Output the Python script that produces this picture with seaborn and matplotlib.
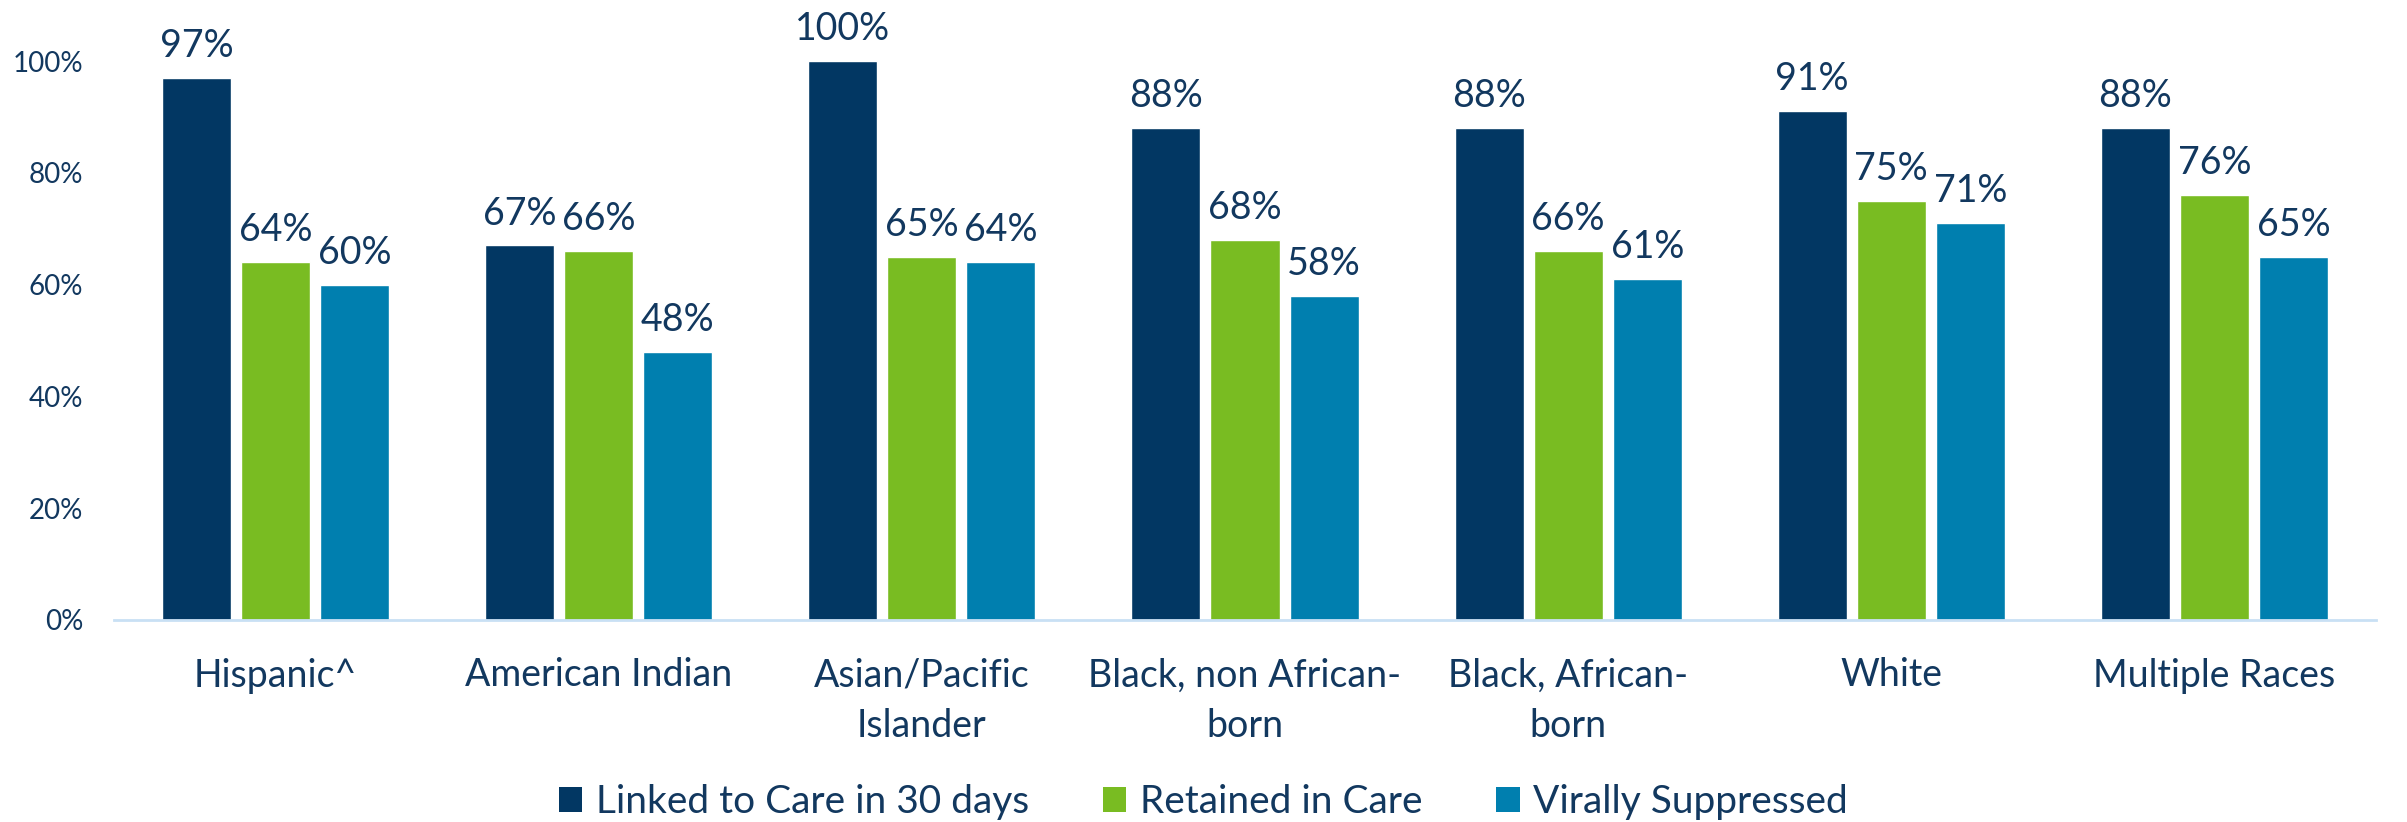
import matplotlib
matplotlib.use("Agg")
import matplotlib.pyplot as plt
import seaborn as sns
import pandas as pd
from matplotlib.patches import Patch

categories = ["Hispanic^", "American Indian", "Asian/Pacific\nIslander",
              "Black, non African-\nborn", "Black, African-\nborn", "White", "Multiple Races"]
series_names = ["Linked to Care in 30 days", "Retained in Care", "Virally Suppressed"]
linked = [97, 67, 100, 88, 88, 91, 88]
retained = [64, 66, 65, 68, 66, 75, 76]
suppressed = [60, 48, 64, 58, 61, 71, 65]
yticks = [0, 20, 40, 60, 80, 100]

colors = ["#023763", "#79BC22", "#007FAF"]
text_color = "#12385F"

rows = []
for s, vals in zip(series_names, [linked, retained, suppressed]):
    for c, v in zip(categories, vals):
        rows.append({"Category": c, "Series": s, "Value": v})
df = pd.DataFrame(rows)

sns.set_style("white")
plt.rcParams["font.family"] = ["Lato", "DejaVu Sans"]

fig = plt.figure(figsize=(24.07, 8.22), dpi=100)
ax = fig.add_axes([114 / 2407, 1 - 620 / 822, (2376 - 114) / 2407, (620 - 61) / 822])

sns.barplot(data=df, x="Category", y="Value", hue="Series", order=categories,
            hue_order=series_names, palette=colors, saturation=1,
            width=0.734, gap=0.127, ax=ax, legend=False, errorbar=None)

ax.set_ylim(0, 100)
ax.set_xlim(-0.5, len(categories) - 0.5)
ax.set_yticks(yticks)
ax.set_yticklabels([f"{t}%" for t in yticks])
ax.set_xlabel("")
ax.set_ylabel("")
for sp in ["top", "right", "left"]:
    ax.spines[sp].set_visible(False)
ax.spines["bottom"].set_color("#C9E0F4")
ax.spines["bottom"].set_linewidth(2)
ax.tick_params(axis="y", length=0, pad=22, labelsize=20, labelcolor=text_color)
ax.tick_params(axis="x", length=0, pad=27, labelsize=27, labelcolor=text_color)
for lab in ax.get_xticklabels():
    lab.set_linespacing(1.5)

for container in ax.containers:
    for bar in container:
        h = bar.get_height()
        ax.annotate(f"{h:.0f}%", (bar.get_x() + bar.get_width() / 2, h),
                    xytext=(0, 15), textcoords="offset points",
                    ha="center", va="baseline", fontsize=27, color=text_color,
                    annotation_clip=False)

handles = [Patch(facecolor=c, edgecolor="none") for c in colors]
fig.legend(handles, series_names, loc="center", bbox_to_anchor=(0.5, 1 - 802 / 822),
           ncol=3, frameon=False, fontsize=28, labelcolor=text_color,
           handlelength=0.6, handleheight=0.6, handletextpad=0.35, columnspacing=1.9)

fig.savefig("out.png", dpi=100)
